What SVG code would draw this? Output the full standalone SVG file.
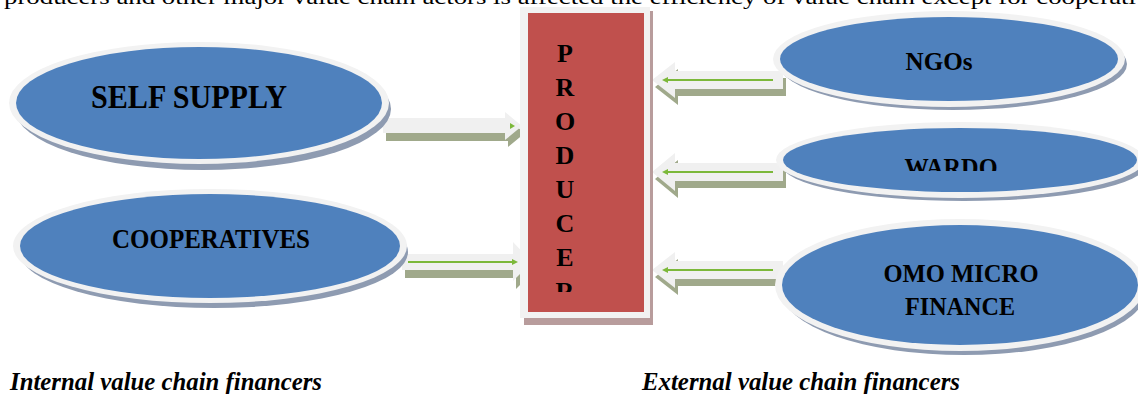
<svg xmlns="http://www.w3.org/2000/svg" width="1138" height="394" viewBox="0 0 1138 394">
<defs>
<style>
.rim{fill:#f2f2f2}
.shd{fill:#8e9bb1}
.blue{fill:#4f81bd}
.lbl{font-family:"Liberation Serif","Times New Roman",serif;font-weight:bold;fill:#000;text-anchor:middle}
.arr{fill:#f0f0f0}
.ash{fill:#a0a98b}
.grn{stroke:#7cb83a;stroke-width:2;fill:none}
.cap{font-family:"Liberation Serif","Times New Roman",serif;font-style:italic;font-weight:bold;font-size:26px;fill:#000}
</style>
<clipPath id="pclip"><rect x="528" y="13" width="116" height="279"/></clipPath>
<clipPath id="wclip"><rect x="780" y="120" width="358" height="51"/></clipPath>
</defs>
<rect width="1138" height="394" fill="#fff"/>
<text x="4" y="4" font-family="Liberation Serif, serif" font-size="20" textLength="1132" lengthAdjust="spacingAndGlyphs">producers and other major value chain actors is affected the efficiency of value chain except for cooperati</text>

<g id="connectors">
  <!-- SELF SUPPLY -> PRODUCER -->
  <polygon class="ash" points="386,125 508,125 508,120 525,133 508,147 508,141 386,141"/>
  <polygon class="arr" points="383,118 505,118 505,112 522,126 505,140 505,133 383,133"/>
  <polygon fill="#7cb83a" points="510,123 515,126 510,129"/>
  <!-- COOPERATIVES -> PRODUCER -->
  <polygon class="ash" points="405,262 516,262 516,250 535,270 516,289 516,278 405,278"/>
  <polygon class="arr" points="402,254 513,254 513,242 532,262 513,281 513,270 402,270"/>
  <line class="grn" x1="408" y1="262" x2="514" y2="262"/>
  <polygon fill="#7cb83a" points="512,259 518,262 512,265"/>
  <!-- NGOs -> PRODUCER -->
  <polygon class="ash" points="655,87 678,69 678,78 786,78 786,96 678,96 678,105"/>
  <polygon class="arr" points="652,80 675,62 675,71 783,71 783,89 675,89 675,98"/>
  <line class="grn" x1="666" y1="80" x2="773" y2="80"/>
  <polygon fill="#7cb83a" points="668,77 662,80 668,83"/>
  <!-- WARDO -> PRODUCER -->
  <polygon class="ash" points="655,179 678,160 678,170 786,170 786,188 678,188 678,198"/>
  <polygon class="arr" points="652,172 675,153 675,163 783,163 783,181 675,181 675,191"/>
  <line class="grn" x1="666" y1="172" x2="773" y2="172"/>
  <polygon fill="#7cb83a" points="668,169 662,172 668,175"/>
  <!-- OMO -> PRODUCER -->
  <polygon class="ash" points="655,277 678,259 678,268 786,268 786,286 678,286 678,295"/>
  <polygon class="arr" points="652,270 675,252 675,261 783,261 783,279 675,279 675,288"/>
  <line class="grn" x1="666" y1="270" x2="773" y2="270"/>
  <polygon fill="#7cb83a" points="668,267 662,270 668,273"/>
</g>

<g id="self-supply">
  <ellipse class="shd" cx="203" cy="109" rx="188" ry="61"/>
  <ellipse class="rim" cx="199" cy="103" rx="190" ry="61"/>
  <ellipse class="blue" cx="199" cy="103" rx="183" ry="56"/>
  <text class="lbl" x="189" y="108" font-size="34" textLength="196" lengthAdjust="spacingAndGlyphs">SELF SUPPLY</text>
</g>

<g id="cooperatives">
  <ellipse class="shd" cx="214" cy="252" rx="194" ry="56"/>
  <ellipse class="rim" cx="210" cy="246" rx="197" ry="57"/>
  <ellipse class="blue" cx="210" cy="246" rx="190" ry="52"/>
  <text class="lbl" x="211" y="248" font-size="27" textLength="198" lengthAdjust="spacingAndGlyphs">COOPERATIVES</text>
</g>

<g id="producer">
  <rect x="524" y="11" width="129" height="314" fill="#b89c9c"/>
  <rect x="520" y="7" width="130" height="311" fill="#f2f2f2"/>
  <rect x="528" y="13" width="116" height="299" fill="#c0504d"/>
  <g clip-path="url(#pclip)" class="lbl" font-size="26">
    <text x="565" y="62">P</text>
    <text x="565" y="96">R</text>
    <text x="565" y="130">O</text>
    <text x="565" y="164">D</text>
    <text x="565" y="198">U</text>
    <text x="565" y="232">C</text>
    <text x="565" y="266">E</text>
    <text x="565" y="300">R</text>
  </g>
</g>

<g id="ngos">
  <ellipse class="shd" cx="953" cy="64" rx="174" ry="46"/>
  <ellipse class="rim" cx="949" cy="59" rx="176" ry="48"/>
  <ellipse class="blue" cx="949" cy="59" rx="169" ry="42"/>
  <text class="lbl" x="939" y="70" font-size="25" textLength="67" lengthAdjust="spacingAndGlyphs">NGOs</text>
</g>

<g id="wardo">
  <ellipse class="shd" cx="964" cy="165" rx="182" ry="36"/>
  <ellipse class="rim" cx="960" cy="160" rx="184" ry="38"/>
  <ellipse class="blue" cx="960" cy="160" rx="177" ry="32"/>
  <text class="lbl" x="951" y="176" font-size="25" textLength="93" lengthAdjust="spacingAndGlyphs" clip-path="url(#wclip)">WARDO</text>
</g>

<g id="omo">
  <ellipse class="shd" cx="964" cy="291" rx="182" ry="64"/>
  <ellipse class="rim" cx="960" cy="285" rx="185" ry="66"/>
  <ellipse class="blue" cx="960" cy="285" rx="178" ry="60"/>
  <text class="lbl" x="961" y="282" font-size="26" textLength="155" lengthAdjust="spacingAndGlyphs">OMO MICRO</text>
  <text class="lbl" x="960" y="315" font-size="26" textLength="110" lengthAdjust="spacingAndGlyphs">FINANCE</text>
</g>

<text class="cap" x="10" y="390" textLength="312" lengthAdjust="spacingAndGlyphs">Internal value chain financers</text>
<text class="cap" x="642" y="390" textLength="318" lengthAdjust="spacingAndGlyphs">External value chain financers</text>
</svg>
